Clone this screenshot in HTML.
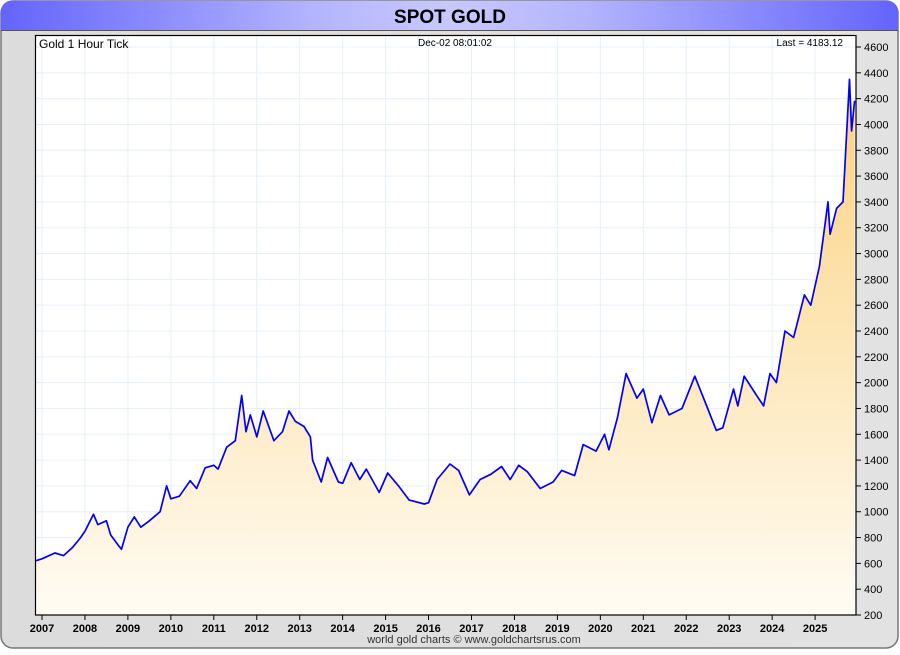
<!DOCTYPE html>
<html><head><meta charset="utf-8">
<style>
html,body{margin:0;padding:0;background:#fff;}
body{width:900px;height:650px;overflow:hidden;font-family:"Liberation Sans",sans-serif;}
</style></head>
<body>
<svg id="chart" width="900" height="650" xmlns="http://www.w3.org/2000/svg">
<defs>
<linearGradient id="hdr" x1="0" x2="1" y1="0" y2="0">
<stop offset="0" stop-color="#6464ff"/><stop offset="0.35" stop-color="#b4b4ff"/><stop offset="0.5" stop-color="#c8c8ff"/><stop offset="0.65" stop-color="#b4b4ff"/><stop offset="1" stop-color="#6464ff"/></linearGradient>
<linearGradient id="panel" x1="0" x2="1" y1="0" y2="0">
<stop offset="0" stop-color="#dcdcdc"/><stop offset="1" stop-color="#e2e2e2"/></linearGradient>
<linearGradient id="fill" gradientUnits="userSpaceOnUse" x1="0" y1="60" x2="0" y2="615">
<stop offset="0" stop-color="#fbcf7c"/><stop offset="0.5" stop-color="#fde6b6"/><stop offset="1" stop-color="#fffcf4"/></linearGradient>
</defs>
<rect x="1" y="1" width="897" height="647" rx="12" fill="url(#panel)" stroke="#777" stroke-width="1.5"/>
<path d="M1 30 L1 13 Q1 1 13 1 L886 1 Q898 1 898 13 L898 30 Z" fill="url(#hdr)"/>
<line x1="1" y1="30.5" x2="898" y2="30.5" stroke="#555" stroke-width="1"/>
<text x="450" y="23" text-anchor="middle" font-size="19" font-weight="bold" fill="#000">SPOT GOLD</text>
<rect x="35" y="35" width="821" height="580" fill="#fff"/>
<g id="grid"></g>
<path id="area" fill="url(#fill)"/>
<path id="line" fill="none" stroke="#0000ff" stroke-width="1.7" stroke-linejoin="round"/>
<rect x="35.5" y="35.5" width="820.5" height="579.5" fill="none" stroke="#000" stroke-width="1.2"/>
<g id="axes"></g>
<text x="39" y="48" font-size="12" fill="#000">Gold 1 Hour Tick</text>
<text x="455" y="46" text-anchor="middle" font-size="10" fill="#000">Dec-02  08:01:02</text>
<text x="843" y="46" text-anchor="end" font-size="10" fill="#000">Last = 4183.12</text>
<text x="474" y="643" text-anchor="middle" font-size="11" fill="#333">world gold charts © www.goldchartsrus.com</text>
</svg>
<script>
const years = [2007,2008,2009,2010,2011,2012,2013,2014,2015,2016,2017,2018,2019,2020,2021,2022,2023,2024,2025];
const yTicks = [200,400,600,800,1000,1200,1400,1600,1800,2000,2200,2400,2600,2800,3000,3200,3400,3600,3800,4000,4200,4400,4600];
const dates = [2006.85,2007.0,2007.3,2007.5,2007.7,2007.9,2008.0,2008.2,2008.3,2008.5,2008.6,2008.8,2008.85,2009.0,2009.15,2009.3,2009.5,2009.75,2009.9,2010.0,2010.2,2010.45,2010.6,2010.8,2011.0,2011.1,2011.3,2011.5,2011.65,2011.75,2011.85,2012.0,2012.15,2012.4,2012.6,2012.75,2012.9,2013.1,2013.25,2013.3,2013.5,2013.65,2013.9,2014.0,2014.2,2014.4,2014.55,2014.85,2015.05,2015.3,2015.55,2015.9,2016.0,2016.2,2016.5,2016.7,2016.95,2017.2,2017.45,2017.7,2017.9,2018.1,2018.3,2018.6,2018.9,2019.1,2019.4,2019.6,2019.9,2020.1,2020.2,2020.4,2020.6,2020.85,2021.0,2021.2,2021.4,2021.6,2021.9,2022.2,2022.5,2022.7,2022.85,2023.1,2023.2,2023.35,2023.6,2023.8,2023.95,2024.1,2024.3,2024.5,2024.75,2024.9,2025.1,2025.3,2025.35,2025.5,2025.65,2025.8,2025.85,2025.92];
const prices = [620,635,680,660,720,800,850,980,900,930,820,730,710,880,960,880,930,1000,1200,1100,1120,1240,1180,1340,1360,1330,1500,1550,1900,1620,1750,1580,1780,1550,1620,1780,1700,1660,1580,1400,1230,1420,1230,1220,1380,1250,1330,1150,1300,1200,1090,1060,1070,1250,1370,1320,1130,1250,1290,1350,1250,1360,1310,1180,1230,1320,1280,1520,1470,1600,1480,1730,2070,1880,1950,1690,1900,1750,1800,2050,1800,1630,1650,1950,1820,2050,1920,1820,2070,2000,2400,2350,2680,2600,2900,3400,3150,3350,3400,4350,3950,4183];

const X = t => 42 + (t - 2007) * 42.95;
const Y = v => 615 - (v - 200) * 0.12909;
const NS = "http://www.w3.org/2000/svg";
const grid = document.getElementById('grid');
const axes = document.getElementById('axes');
function mk(tag, attrs, parent){const e=document.createElementNS(NS,tag);for(const k in attrs)e.setAttribute(k,attrs[k]);parent.appendChild(e);return e;}
years.forEach(yr=>{
  const x=X(yr);
  const g=mk('line',{x1:x,x2:x,y1:36,y2:615,stroke:'#e6f0f9','stroke-width':1},grid);
  
  
  mk('line',{x1:x,x2:x,y1:615,y2:620,stroke:'#000','stroke-width':1},axes);
  const t=mk('text',{x:x,y:632,'text-anchor':'middle','font-size':11,'font-weight':'bold',fill:'#000'},axes);
  t.textContent=yr;
  
  
});
yTicks.forEach(v=>{
  const y=Y(v);
  const g=mk('line',{x1:36,x2:856,y1:y,y2:y,stroke:'#e6f0f9','stroke-width':1},grid);
  
  
  mk('line',{x1:856,x2:861,y1:y,y2:y,stroke:'#000','stroke-width':1},axes);
  const t=mk('text',{x:864,y:y+4,'font-size':11,fill:'#000'},axes);
  t.textContent=v;
  
  
});
let d='';
dates.forEach((t,i)=>{d+=(i?'L':'M')+X(t).toFixed(1)+' '+Y(prices[i]).toFixed(1)+' ';});
document.getElementById('line').setAttribute('d',d);
document.getElementById('area').setAttribute('d',d+'L'+X(dates[dates.length-1]).toFixed(1)+' 615 L'+X(dates[0]).toFixed(1)+' 615 Z');
</script>
</body></html>
